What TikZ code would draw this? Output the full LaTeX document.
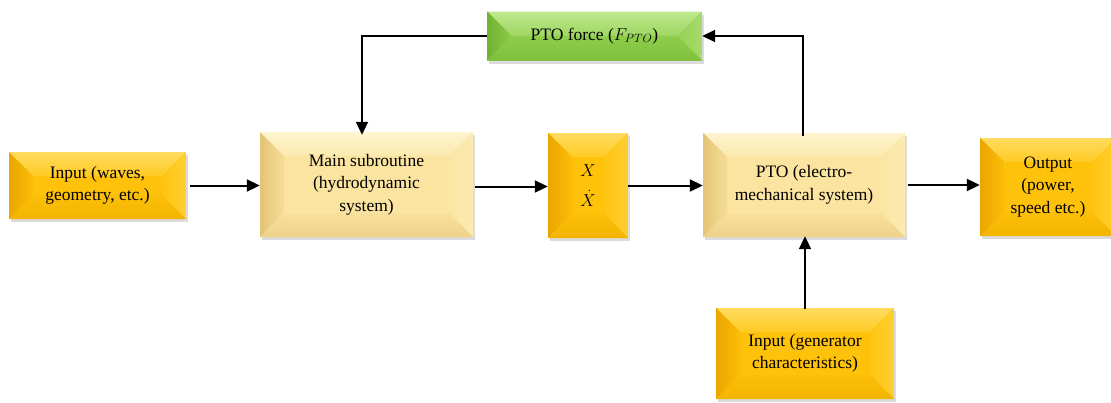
\documentclass[tikz,border=0pt]{standalone}
\usepackage{fontspec}
\setmainfont{Liberation Serif}
\usetikzlibrary{arrows.meta,shadows}

% bevel inset depth
\def\bv{24pt}

\definecolor{goldC}{RGB}{255,194,10}
\definecolor{goldT}{RGB}{255,220,95}
\definecolor{goldL}{RGB}{234,166,0}
\definecolor{goldR}{RGB}{255,206,50}
\definecolor{goldB}{RGB}{242,180,0}
\definecolor{creamC}{RGB}{250,228,160}
\definecolor{creamT}{RGB}{255,244,208}
\definecolor{creamL}{RGB}{228,196,118}
\definecolor{creamR}{RGB}{252,234,178}
\definecolor{creamB}{RGB}{238,210,138}
\definecolor{greenC}{RGB}{146,208,80}
\definecolor{greenT}{RGB}{190,232,142}
\definecolor{greenL}{RGB}{112,178,48}
\definecolor{greenR}{RGB}{166,218,108}
\definecolor{greenB}{RGB}{126,192,60}

\tikzset{
  bevel/.style n args={5}{
    fill=#1,
    path picture={
      \coordinate (pNW) at (path picture bounding box.north west);
      \coordinate (pNE) at (path picture bounding box.north east);
      \coordinate (pSW) at (path picture bounding box.south west);
      \coordinate (pSE) at (path picture bounding box.south east);
      \coordinate (iNW) at ([shift={(\bv,-\bv)}]pNW);
      \coordinate (iNE) at ([shift={(-\bv,-\bv)}]pNE);
      \coordinate (iSW) at ([shift={(\bv,\bv)}]pSW);
      \coordinate (iSE) at ([shift={(-\bv,\bv)}]pSE);
      \shade[top color=#2, bottom color=#1!70!#2] (pNW) -- (pNE) -- (iNE) -- (iNW) -- cycle;
      \shade[left color=#3, right color=#1!80!#3] (pNW) -- (iNW) -- (iSW) -- (pSW) -- cycle;
      \shade[left color=#1!80!#4, right color=#4] (pNE) -- (iNE) -- (iSE) -- (pSE) -- cycle;
      \shade[top color=#1!80!#5, bottom color=#5] (pSW) -- (iSW) -- (iSE) -- (pSE) -- cycle;
    }
  },
  block/.style={
    rectangle, inner sep=0pt, align=center,
    font=\fontsize{17.5}{22.5}\selectfont, text=black,
    drop shadow={shadow xshift=2pt, shadow yshift=-3pt, opacity=0.2, fill=black!70}
  },
  gold/.style={block, bevel={goldC}{goldT}{goldL}{goldR}{goldB}},
  cream/.style={block, bevel={creamC}{creamT}{creamL}{creamR}{creamB}},
  green/.style={block, bevel={greenC}{greenT}{greenL}{greenR}{greenB}},
  flow/.style={line width=2pt, -{Triangle[length=13pt,width=12pt]}}
}

\begin{document}
\begin{tikzpicture}[x=1pt, y=-1pt]
  \useasboundingbox (0,0) rectangle (1111,402);

  % blocks
  \node[gold, minimum width=177pt, minimum height=67pt] (inwaves) at (97.5,185.5)
    {Input (waves,\\geometry, etc.)};
  \node[cream, minimum width=213pt, minimum height=105pt] (main) at (366.5,184.5)
    {Main subroutine\\(hydrodynamic\\system)};
  \node[gold, minimum width=80pt, minimum height=105pt] (state) at (588,185.5)
    {$X$\\[7pt]$\dot{X}$};
  \node[cream, minimum width=202pt, minimum height=104pt] (pto) at (804,185)
    {PTO (electro-\\mechanical system)};
  \node[gold, minimum width=136pt, minimum height=98pt] (out) at (1048,187)
    {Output\\(power,\\speed etc.)};
  \node[gold, minimum width=178pt, minimum height=91pt] (gen) at (805,353.5)
    {Input (generator\\characteristics)};
  \node[green, minimum width=215pt, minimum height=49pt] (force) at (594.5,36)
    {PTO force ($F_{PTO}$)};

  % forward flow
  \draw[flow] ([xshift=4pt]inwaves.east) -- (inwaves.east -| main.west);
  \draw[flow] ([xshift=2pt,yshift=-2pt]main.east) -- ([yshift=-2pt]main.east -| state.west);
  \draw[flow] (state.east) -- (state.east -| pto.west);
  \draw[flow] ([xshift=3pt]pto.east) -- (pto.east -| out.west);
  \draw[flow] ([yshift=-1pt]gen.north) -- ([yshift=1pt]gen.north |- pto.south);

  % feedback loop through the PTO force
  \coordinate (tr) at ([xshift=-1pt]pto.north |- force.west);
  \coordinate (tl) at (362,36);
  \draw[flow] ([xshift=-1pt,yshift=-3pt]pto.north) -- (tr) -- (force.east);
  \draw[flow] (force.west) -- (tl) -- ([yshift=-3pt]main.north -| tl);
\end{tikzpicture}
\end{document}
